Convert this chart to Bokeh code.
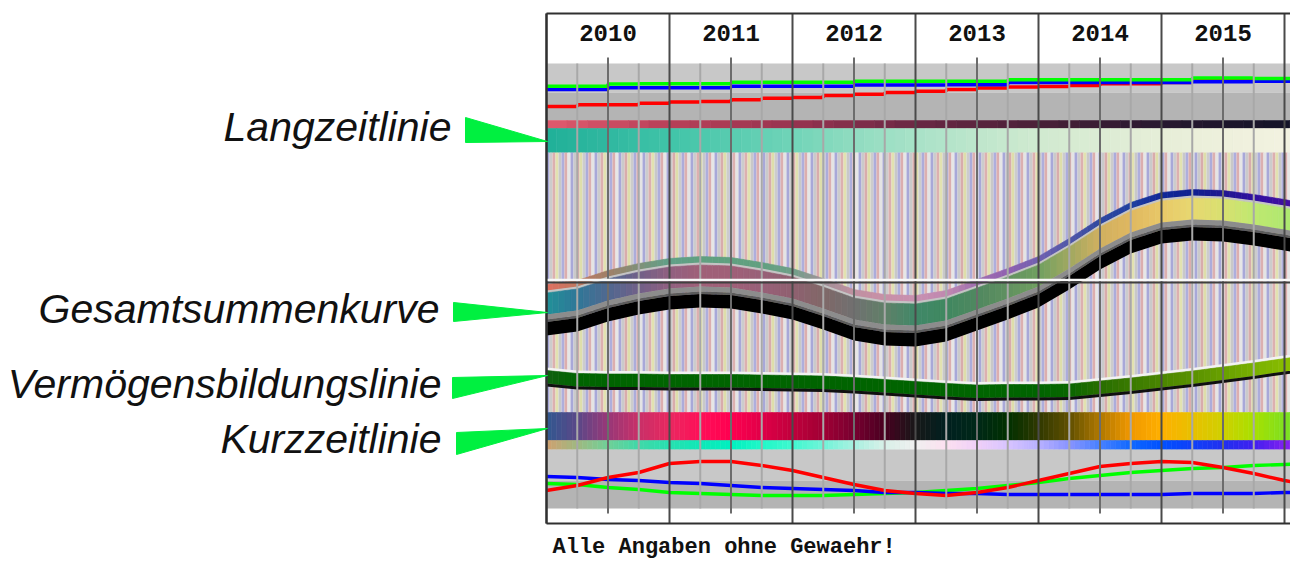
import numpy as np
from bokeh.plotting import figure
from bokeh.models import Range1d
from bokeh.core.properties import value
from bokeh.embed import file_html
from bokeh.resources import INLINE

# ---------------- data ----------------
t = [2010.0, 2010.25, 2010.5, 2010.75, 2011.0, 2011.25, 2011.5, 2011.75,
     2012.0, 2012.25, 2012.5, 2012.75, 2013.0, 2013.25, 2013.5, 2013.75,
     2014.0, 2014.25, 2014.5, 2014.75, 2015.0, 2015.25, 2015.5, 2015.75,
     2016.0, 2016.25]

years = ["2010", "2011", "2012", "2013", "2014", "2015"]
year_mid = [2010.5, 2011.5, 2012.5, 2013.5, 2014.5, 2015.5]
year_edges = [2010, 2011, 2012, 2013, 2014, 2015, 2016]
quarter_ticks = [2010.25, 2010.75, 2011.25, 2011.75, 2012.25, 2012.75, 2013.25,
                 2013.75, 2014.25, 2014.75, 2015.25, 2015.75]

# Langzeitlinie (top panel, screen-like scale: smaller = higher)
lang_green = [85.7, 85.7, 83.5, 83.3, 83.3, 83.3, 81.7, 81.7, 81.7, 81.7, 80.7, 80.7, 80.7,
              80.7, 80.7, 79.3, 79.3, 79.3, 79.3, 79.3, 79.3, 77.5, 77.5, 78.0, 78.0, 78.0]
lang_blue = [89.0, 89.0, 87.3, 87.3, 87.3, 87.3, 85.7, 85.7, 85.7, 85.7, 84.5, 84.5, 84.5,
             84.3, 84.3, 82.0, 82.0, 82.0, 82.0, 82.0, 82.0, 81.3, 81.3, 80.7, 80.7, 80.7]
lang_red = [106.0, 104.3, 104.3, 102.7, 101.5, 101.0, 99.3, 97.7, 97.0, 95.0, 93.8, 92.0, 90.7,
            89.0, 87.5, 86.5, 86.0, 85.0, 83.3, 83.3, 82.0, 80.0, 80.0, 80.5, 80.5, 80.5]

# Gesamtsummenkurve (top edge of the band)
gesamt_top = [284, 280, 270, 263, 258, 256, 257, 262, 268, 278, 289, 294, 295,
              290, 279, 268, 256, 238, 218, 202, 192, 189, 190, 194, 199, 205]
gesamt_edge_cols = ["#e07060", "#c07860", "#a08068", "#809078", "#60a088", "#60a080",
                    "#60a080", "#60a080", "#70a088", "#a09098", "#c090a0", "#c890a8",
                    "#c890b0", "#c088b0", "#a070b0", "#9060b0", "#7060b0", "#5058a8",
                    "#3048a0", "#2040a0", "#102898", "#102090", "#201890", "#3010a0",
                    "#4010a0", "#5010a0"]
gesamt_main_cols = ["#209098", "#307898", "#506890", "#706088", "#906080", "#a06078",
                    "#a06078", "#986078", "#906070", "#806868", "#707070", "#608068",
                    "#408868", "#408860", "#508860", "#609060", "#70a060", "#a0a860",
                    "#d0b060", "#e0b860", "#e8c868", "#e8d870", "#d8e070", "#c0e870",
                    "#b0e870", "#a0e870"]

# Vermoegensbildungslinie (top edge)
verm_top = [367, 370, 370.5, 370.5, 371, 371, 371, 371.5, 372, 372.5, 374, 376, 378,
            380, 381.5, 381, 381, 380.5, 377.5, 374.5, 371, 367.5, 363.5, 359.5, 355, 351]
verm_cols = ["#106010", "#006400", "#006400", "#006400", "#006400", "#006400", "#006400",
             "#006400", "#006400", "#006400", "#006400", "#006400", "#006400", "#006400",
             "#006400", "#006400", "#006400", "#0a6600", "#286e00", "#3a7a00", "#4a8600",
             "#5a9200", "#68a000", "#78b000", "#88bc00", "#98c800"]

# Kurzzeitlinie (bottom panel)
kurz_red = [490, 485, 477, 472, 463, 461, 461, 465, 470, 477, 484, 490, 493,
            495, 492, 487, 480, 473, 466, 463, 461, 462, 467, 473, 480, 486]
kurz_blue = [476, 477, 479, 480, 482, 483, 485, 487, 488, 489, 490, 492, 492,
             493, 493, 494, 494, 494, 494, 494, 494, 493, 493, 493, 492, 492]
kurz_green = [483, 484, 487, 489, 492, 493, 494, 495, 495, 495, 494, 493, 492,
              490, 488, 485, 482, 478, 475, 472, 470, 468, 467, 465, 464, 463]

# colour bands
band_a_t = [2010, 2011, 2012, 2013, 2014, 2015, 2016, 2016.25]
band_a_cols = ["#e05a6e", "#b84058", "#983450", "#6a2844", "#4a2038", "#281830", "#141428", "#101024"]
band_b_t = [2010, 2010.5, 2011, 2011.5, 2012, 2012.5, 2013, 2013.5, 2014, 2014.5, 2015, 2015.5, 2016, 2016.25]
band_b_cols = ["#20b098", "#30b8a0", "#40c4a8", "#58ccb0", "#70d4b8", "#90dcc0", "#a8e2c8",
               "#bee6cc", "#d0ead0", "#dcecd4", "#e6eed8", "#eef0dc", "#f2f2e0", "#f4f4e4"]
kurz_band_cols = ["#305890", "#5a4888", "#983878", "#c83068", "#e82860", "#ff1058", "#ff0050",
                  "#e00048", "#c0003c", "#a00034", "#780030", "#480020", "#181818", "#002020",
                  "#002818", "#003000", "#303800", "#605000", "#b07800", "#f09800", "#ffb000",
                  "#e8c000", "#d0d000", "#a8e000", "#80e020", "#60e030"]
kurz_thin_cols = ["#d0a070", "#a0b880", "#70d098", "#40d8a8", "#28e0b0", "#10e8b8", "#00f0c0",
                  "#20f8c8", "#40f8d0", "#70f4d8", "#a8f0e0", "#d8f0e8", "#f0f0f0", "#fce0f0",
                  "#f0d0f8", "#d8c4ff", "#b8b0ff", "#8894ff", "#4880ff", "#1068ff", "#0050ff",
                  "#1040f8", "#2030f0", "#4020f0", "#8020f0", "#a020f0"]

labels = ["Langzeitlinie", "Gesamtsummenkurve", "Vermögensbildungslinie", "Kurzzeitlinie"]
footer = "Alle Angaben ohne Gewaehr!"

# ---------------- layout helpers ----------------
PXY = 123.0           # pixels per year
W, H = 1290, 562
X0 = 2010 - 546 / PXY
X1 = 2010 + (W - 546) / PXY


def px(xp):
    return 2010 + (xp - 546) / PXY


def rgb(h):
    return tuple(int(h[i:i + 2], 16) for i in (1, 3, 5))


def mix(c1, c2, f):
    a, b = rgb(c1), rgb(c2)
    return "#%02x%02x%02x" % tuple(int(round(x + (y - x) * f)) for x, y in zip(a, b))


p = figure(width=W, height=H, output_backend="svg", toolbar_location=None,
           x_range=Range1d(X0, X1), y_range=Range1d(H, 0),
           x_axis_type=None, y_axis_type=None, min_border=0)
p.min_border_left = p.min_border_right = p.min_border_top = p.min_border_bottom = 0
p.outline_line_color = None
p.background_fill_color = "white"
p.border_fill_color = "white"
p.xgrid.visible = False
p.ygrid.visible = False


def gradient_quads(times, cols, top, bottom, sub=6):
    L, R, C = [], [], []
    for i in range(len(times) - 1):
        for k in range(sub):
            f0, f1 = k / sub, (k + 1) / sub
            L.append(times[i] + (times[i + 1] - times[i]) * f0)
            R.append(times[i] + (times[i + 1] - times[i]) * f1)
            C.append(mix(cols[i], cols[i + 1], (f0 + f1) / 2))
    p.quad(left=L, right=R, top=top, bottom=bottom, fill_color=C, line_color=C, line_width=0.6)


def curved_band(times, top, off0, off1, cols, sub=5):
    xs, ys, C = [], [], []
    for i in range(len(times) - 1):
        for k in range(sub):
            f0, f1 = k / sub, (k + 1) / sub
            xa = times[i] + (times[i + 1] - times[i]) * f0
            xb = times[i] + (times[i + 1] - times[i]) * f1
            ya = top[i] + (top[i + 1] - top[i]) * f0
            yb = top[i] + (top[i + 1] - top[i]) * f1
            xs.append([xa, xb, xb, xa])
            ys.append([ya + off0, yb + off0, yb + off1, ya + off1])
            C.append(mix(cols[i], cols[i + 1], (f0 + f1) / 2))
    p.patches(xs, ys, fill_color=C, line_color=C, line_width=0.6)


def flat_band(times, top, off0, off1, color):
    p.varea(x=times, y1=[v + off0 for v in top], y2=[v + off1 for v in top], fill_color=color)


# ---------------- top panel ----------------
p.quad(left=[2010], right=[X1 + 1], top=[63], bottom=[92], fill_color="#c8c8c8", line_color=None)
p.quad(left=[2010], right=[X1 + 1], top=[92], bottom=[120], fill_color="#b4b4b4", line_color=None)
p.step(x=t, y=lang_red, mode="after", line_color="#ff0000", line_width=3.4)
p.step(x=t, y=lang_blue, mode="after", line_color="#0000ff", line_width=3.4)
p.step(x=t, y=lang_green, mode="after", line_color="#00ff00", line_width=3.4)

gradient_quads(band_a_t, band_a_cols, 120, 128)
gradient_quads(band_b_t, band_b_cols, 128, 152)

# ---------------- striped middle ----------------
stripe_palette = ["#a8a8d8", "#cccccc", "#dcb0b0", "#e2e2b0", "#c8c8c8", "#aeaedc",
                  "#dcaeae", "#e6e6e6", "#a8a8d8", "#cacaca", "#d8acac", "#dedeaa",
                  "#cccccc", "#acacda", "#dcb0b0", "#e4e4e4"]
w = 3.0 / PXY
lefts = np.arange(2010, X1 + w, w)
scol = [stripe_palette[i % len(stripe_palette)] for i in range(len(lefts))]
p.quad(left=lefts, right=lefts + w, top=152, bottom=412, fill_color=scol, line_color=None)

# Gesamtsummenkurve
curved_band(t, gesamt_top, 0, 6.5, gesamt_edge_cols)
flat_band(t, gesamt_top, 6, 8.5, "#c4c4c4")
curved_band(t, gesamt_top, 8.5, 30, gesamt_main_cols)
flat_band(t, gesamt_top, 30, 35, "#8c8c8c")
flat_band(t, gesamt_top, 35, 37.5, "#5c5c5c")
flat_band(t, gesamt_top, 37.5, 51, "#000000")

# Vermoegensbildungslinie
flat_band(t, verm_top, 0, 3, "#f2f2f2")
curved_band(t, verm_top, 3, 16, verm_cols)
flat_band(t, verm_top, 16, 19, "#101010")

# ---------------- bottom panel ----------------
gradient_quads(t, kurz_band_cols, 412, 440)
gradient_quads(t, kurz_thin_cols, 440, 449)
p.quad(left=[2010], right=[X1 + 1], top=[449], bottom=[480], fill_color="#c8c8c8", line_color=None)
p.quad(left=[2010], right=[X1 + 1], top=[480], bottom=[508], fill_color="#b4b4b4", line_color=None)
p.line(x=t, y=kurz_green, line_color="#00ff00", line_width=3.4)
p.line(x=t, y=kurz_blue, line_color="#0000ff", line_width=3.4)
p.line(x=t, y=kurz_red, line_color="#ff0000", line_width=3.4)

# ---------------- grid lines ----------------
p.segment(x0=quarter_ticks, x1=quarter_ticks, y0=63, y1=508, line_color="#a8a8a8", line_width=2)
p.segment(x0=year_mid, x1=year_mid, y0=57, y1=513, line_color="#6c6c6c", line_width=2)
p.segment(x0=year_edges, x1=year_edges, y0=13, y1=523, line_color="#4a4a4a", line_width=2)

# horizontal divider
p.segment(x0=[2010], x1=[X1 + 1], y0=[279.5], y1=[279.5], line_color="#f8f8f8", line_width=2.5)
p.segment(x0=[2010], x1=[X1 + 1], y0=[282], y1=[282], line_color="#404040", line_width=2.2)

# frame
p.segment(x0=[2010, 2010], x1=[X1 + 1, X1 + 1], y0=[13, 523], y1=[13, 523],
          line_color="#303030", line_width=2)
p.segment(x0=[2010], x1=[2010], y0=[13], y1=[523], line_color="#303030", line_width=2.2)

# year labels
p.text(x=year_mid, y=[32] * len(years), text=years, text_align="center", text_baseline="middle",
       text_font=value("Liberation Mono"), text_font_style="bold", text_font_size="24px",
       text_color="#111111")

# footer
p.text(x=[px(552)], y=[547], text=[footer], text_align="left", text_baseline="middle",
       text_font=value("Liberation Mono"), text_font_style="bold", text_font_size="22px",
       text_color="#111111")

# left labels + arrows
p.text(x=[px(451), px(439), px(441), px(441)], y=[126, 308, 383, 438], text=labels,
       text_align="right", text_baseline="alphabetic", text_font=value("Liberation Sans"),
       text_font_style="italic", text_font_size="41px", text_color="#111111")

arrow_xs = [[px(465), px(547), px(465)],
            [px(453), px(547), px(453)],
            [px(452), px(547), px(452)],
            [px(456), px(547), px(456)]]
arrow_ys = [[117, 141, 142],
            [302, 312, 321],
            [377, 375, 398],
            [432, 428, 454]]
p.patches(arrow_xs, arrow_ys, fill_color="#00f040", line_color="#00f040", line_width=1)

open("out.html", "w").write(file_html(p, INLINE))
